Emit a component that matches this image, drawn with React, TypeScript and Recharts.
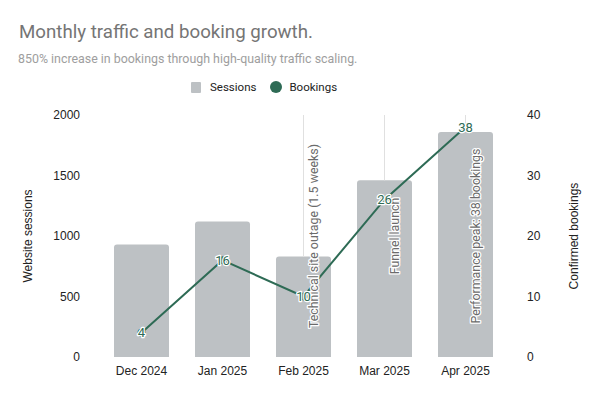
import React from 'react';
import { ComposedChart, Bar, Line, XAxis, YAxis, LabelList } from 'recharts';

const months = ['Dec 2024', 'Jan 2025', 'Feb 2025', 'Mar 2025', 'Apr 2025'];
const sessions = [930, 1120, 830, 1460, 1860];
const bookings = [4, 16, 10, 26, 38];
const notes = ['', '', 'Technical site outage (1.5 weeks)', 'Funnel launch', 'Performance peak: 38 bookings'];

const sessionTicks = [0, 500, 1000, 1500, 2000];
const bookingTicks = [0, 10, 20, 30, 40];

const data = months.map((month, i) => ({
    month,
    sessions: sessions[i],
    bookings: bookings[i],
    note: notes[i],
}));

const BAR_COLOR = '#bdc1c4';
const LINE_COLOR = '#2e6b55';
const PLOT_TOP = 115;
const PLOT_BOTTOM = 357;
const FONT = 'Roboto, Arial, sans-serif';
const AXIS_FONT = '"Liberation Sans", Arial, sans-serif';

const NoteLabel = (props: any) => {
    const { x, y, width, index } = props;
    const note = notes[index];
    if (!note) return null;
    const cx = x + width / 2;
    const ty = (PLOT_TOP + PLOT_BOTTOM) / 2;
    return (
        <g>
            <line x1={cx} y1={PLOT_TOP} x2={cx} y2={y} stroke="#e0e0e0" strokeWidth={1} />
            <text
                x={cx + 14}
                y={ty}
                transform={`rotate(-90 ${cx + 14} ${ty})`}
                textAnchor="middle"
                fontSize={12.4}
                fontFamily={FONT}
                fill="#6b6b6b"
                stroke="#fff"
                strokeWidth={2.5}
                paintOrder="stroke"
                strokeLinejoin="round"
            >
                {note}
            </text>
        </g>
    );
};

const PointLabel = (props: any) => {
    const { x, y, value } = props;
    return (
        <text
            x={x}
            y={y}
            dy={4.5}
            textAnchor="middle"
            fontSize={13}
            fontFamily={FONT}
            fill={LINE_COLOR}
            stroke="#fff"
            strokeWidth={2.5}
            paintOrder="stroke"
            strokeLinejoin="round"
        >
            {value}
        </text>
    );
};

const App = () => {
    return (
        <div style={{ position: 'absolute', left: 0, top: 0, width: 600, height: 398, background: '#fff' }}>
            <div style={{ position: 'absolute', left: 19, top: 21, fontFamily: FONT, fontSize: 18.7, color: '#757575', whiteSpace: 'nowrap' }}>
                Monthly traffic and booking growth.
            </div>
            <div style={{ position: 'absolute', left: 18, top: 51, fontFamily: FONT, fontSize: 12.4, color: '#9e9e9e', whiteSpace: 'nowrap' }}>
                850% increase in bookings through high-quality traffic scaling.
            </div>
            <div style={{ position: 'absolute', left: 191, top: 80, display: 'flex', alignItems: 'center', fontFamily: FONT, fontSize: 11.5, color: '#222' }}>
                <span style={{ width: 10, height: 11, background: BAR_COLOR, borderRadius: 1, display: 'inline-block' }} />
                <span style={{ marginLeft: 9 }}>Sessions</span>
                <span style={{ width: 12, height: 12, background: LINE_COLOR, borderRadius: '50%', display: 'inline-block', marginLeft: 14 }} />
                <span style={{ marginLeft: 7 }}>Bookings</span>
            </div>
            <ComposedChart width={600} height={398} data={data} margin={{ top: PLOT_TOP, right: 0, bottom: 0, left: 0 }}>
                <XAxis
                    dataKey="month"
                    height={398 - PLOT_BOTTOM}
                    axisLine={false}
                    tickLine={false}
                    tickSize={0}
                    tickMargin={9}
                    tick={{ fill: '#222', fontSize: 12, fontFamily: AXIS_FONT }}
                />
                <YAxis
                    yAxisId="left"
                    width={101}
                    domain={[0, 2000]}
                    ticks={sessionTicks}
                    axisLine={false}
                    tickLine={false}
                    tickSize={0}
                    tickMargin={21}
                    tick={{ fill: '#222', fontSize: 12, fontFamily: AXIS_FONT }}
                    label={(p: any) => {
                        const vb = p.viewBox;
                        const cy = vb.y + vb.height / 2;
                        return (
                            <text x={32} y={cy} transform={`rotate(-90 32 ${cy})`} textAnchor="middle" fontSize={12} fontFamily={AXIS_FONT} fill="#222">
                                Website sessions
                            </text>
                        );
                    }}
                />
                <YAxis
                    yAxisId="right"
                    orientation="right"
                    width={94}
                    domain={[0, 40]}
                    ticks={bookingTicks}
                    axisLine={false}
                    tickLine={false}
                    tickSize={0}
                    tickMargin={21}
                    tick={{ fill: '#222', fontSize: 12, fontFamily: AXIS_FONT }}
                    label={(p: any) => {
                        const vb = p.viewBox;
                        const cy = vb.y + vb.height / 2;
                        return (
                            <text x={578} y={cy} transform={`rotate(-90 578 ${cy})`} textAnchor="middle" fontSize={12} fontFamily={AXIS_FONT} fill="#222">
                                Confirmed bookings
                            </text>
                        );
                    }}
                />
                <Bar yAxisId="left" dataKey="sessions" name="Sessions" fill={BAR_COLOR} barSize={55} radius={[3, 3, 0, 0]} isAnimationActive={false}>
                    <LabelList dataKey="note" content={<NoteLabel />} />
                </Bar>
                <Line
                    yAxisId="right"
                    dataKey="bookings"
                    name="Bookings"
                    stroke={LINE_COLOR}
                    strokeWidth={2}
                    dot={{ r: 4, fill: LINE_COLOR, stroke: LINE_COLOR, strokeWidth: 0 }}
                    activeDot={false}
                    isAnimationActive={false}
                >
                    <LabelList dataKey="bookings" content={<PointLabel />} />
                </Line>
            </ComposedChart>
        </div>
    );
};

export default App;
